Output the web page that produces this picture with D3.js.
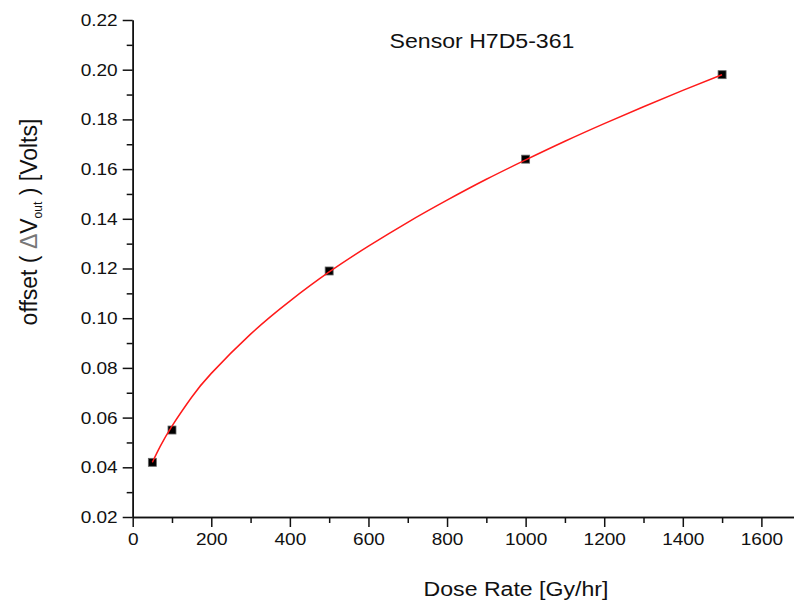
<!DOCTYPE html>
<html>
<head>
<meta charset="utf-8">
<script src="https://cdn.jsdelivr.net/npm/d3@7"></script>
<style>
  body { margin: 0; background: #fff; }
  svg text { font-family: "Liberation Sans", Arial, sans-serif; fill: #111; }
  .stretch { transform-box: fill-box; transform-origin: center; transform: scaleX(1.1); }
  .ytick text { transform-box: fill-box; transform-origin: right center; transform: scaleX(1.12); }
  .xtick text { transform-box: fill-box; transform-origin: center; transform: scaleX(1.12); }
</style>
</head>
<body>
<svg></svg>
<script>
// Window size
const width = 794;
const height = 606;

// Measured points
const doseRate = [50, 100, 500, 1000, 1500];
const offsetV = [0.042, 0.055, 0.119, 0.164, 0.198];

// Fitted curve
const fitX = [50, 70, 100, 150, 200, 300, 400, 500, 600, 700, 800, 900, 1000, 1100, 1200, 1300, 1400, 1500];
const fitY = [0.042, 0.0484, 0.0566, 0.0682, 0.0778, 0.0936, 0.1069, 0.1186, 0.129, 0.1386, 0.1475, 0.1559, 0.1637, 0.1712, 0.1783, 0.1851, 0.1917, 0.198];

// Ticks
const xMajor = [0, 200, 400, 600, 800, 1000, 1200, 1400, 1600];
const xMinor = [100, 300, 500, 700, 900, 1100, 1300, 1500];
const yMajor = [0.02, 0.04, 0.06, 0.08, 0.10, 0.12, 0.14, 0.16, 0.18, 0.20, 0.22];
const yMinor = [0.03, 0.05, 0.07, 0.09, 0.11, 0.13, 0.15, 0.17, 0.19, 0.21];

const svg = d3.select("svg")
    .attr("width", width)
    .attr("height", height);

// Scales
const x = d3.scaleLinear().domain([0, 1683]).range([132.7, 794]);
const y = d3.scaleLinear().domain([0.02, 0.22]).range([517, 20]);

// Axes: minor ticks first, then major ticks with labels
function styleAxis(g) {
    g.selectAll("path, line").attr("stroke", "#111").attr("stroke-width", 1.5);
}

svg.append("g")
    .attr("transform", `translate(0,${y(0.02)})`)
    .call(d3.axisBottom(x).tickValues(xMinor).tickSize(6).tickSizeOuter(0).tickFormat(""))
    .call(styleAxis);

svg.append("g")
    .attr("class", "xtick")
    .attr("transform", `translate(0,${y(0.02)})`)
    .call(d3.axisBottom(x).tickValues(xMajor).tickSize(10).tickSizeOuter(0).tickPadding(6).tickFormat(d3.format("d")))
    .call(styleAxis)
    .call(g => g.selectAll("text").style("font-size", "17px").attr("fill", "#111"));

svg.append("g")
    .attr("transform", `translate(${x(0)},0)`)
    .call(d3.axisLeft(y).tickValues(yMinor).tickSize(6).tickSizeOuter(0).tickFormat(""))
    .call(styleAxis);

svg.append("g")
    .attr("class", "ytick")
    .attr("transform", `translate(${x(0)},0)`)
    .call(d3.axisLeft(y).tickValues(yMajor).tickSize(10).tickSizeOuter(0).tickPadding(5).tickFormat(d3.format(".2f")))
    .call(styleAxis)
    .call(g => g.selectAll("text").style("font-size", "17px").attr("fill", "#111"));

// Markers
svg.append("g")
    .selectAll("rect")
    .data(doseRate)
    .enter()
    .append("rect")
    .attr("x", (d, i) => x(d) - 4)
    .attr("y", (d, i) => y(offsetV[i]) - 4)
    .attr("width", 8)
    .attr("height", 8)
    .attr("fill", "#000")
    .attr("stroke", "#666")
    .attr("stroke-width", 0.8);

// Fit line over the markers
const line = d3.line()
    .x((d, i) => x(fitX[i]))
    .y(d => y(d))
    .curve(d3.curveNatural);

svg.append("path")
    .datum(fitY)
    .attr("d", line)
    .attr("fill", "none")
    .attr("stroke", "#ff1a1a")
    .attr("stroke-width", 1.5);

// Title
svg.append("text")
    .attr("class", "stretch")
    .attr("x", 482)
    .attr("y", 48)
    .attr("text-anchor", "middle")
    .style("font-size", "21px")
    .text("Sensor H7D5-361");

// X label
svg.append("text")
    .attr("class", "stretch")
    .attr("x", 516)
    .attr("y", 596)
    .attr("text-anchor", "middle")
    .style("font-size", "21px")
    .text("Dose Rate [Gy/hr]");

// Y label
const yLabel = svg.append("text")
    .attr("transform", "translate(37,222) rotate(-90)")
    .attr("text-anchor", "middle")
    .style("font-size", "23px");
yLabel.append("tspan").text("offset ( ");
yLabel.append("tspan").attr("fill", "#777").text("\u0394");
yLabel.append("tspan").text("V");
yLabel.append("tspan").attr("dy", 5).style("font-size", "12px").text("out");
yLabel.append("tspan").attr("dy", -5).text(" ) [Volts]");
</script>
</body>
</html>
